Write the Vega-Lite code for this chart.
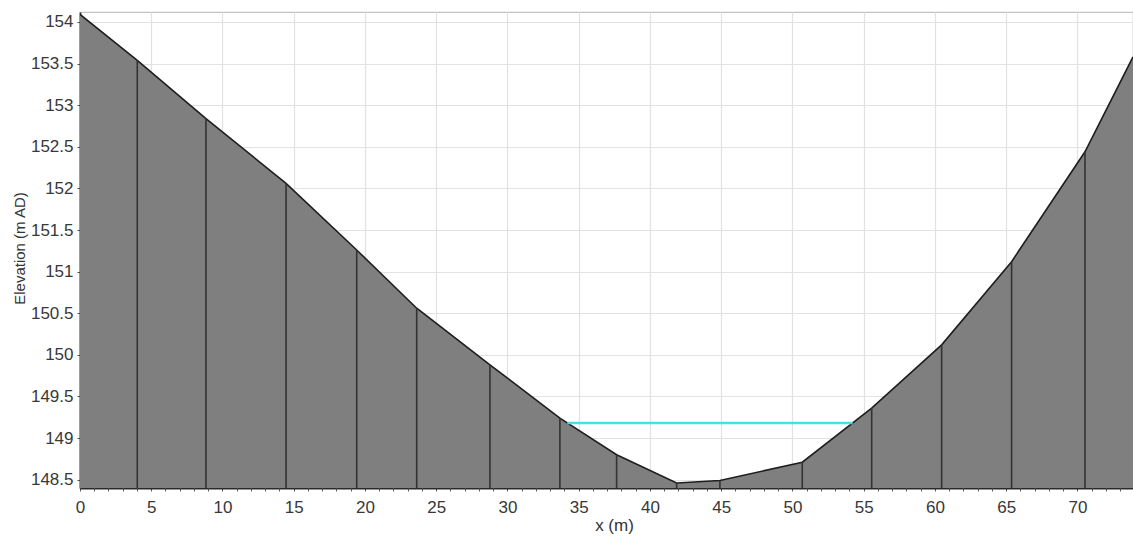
{
  "$schema": "https://vega.github.io/schema/vega-lite/v6.json",
  "width": 1053,
  "height": 476,
  "autosize": "none",
  "padding": {"left": 80, "top": 12, "right": 0, "bottom": 50},
  "background": "white",
  "config": {
    "font": "Liberation Sans",
    "view": {"stroke": "#c4c4c4", "strokeWidth": 1.2},
    "axis": {
      "labelFont": "Liberation Sans",
      "titleFont": "Liberation Sans",
      "labelColor": "#383838",
      "titleColor": "#333333",
      "titleFontWeight": "normal",
      "gridColor": "#e2e2e2",
      "gridWidth": 1.2,
      "domainColor": "#2a2a2a",
      "domainWidth": 1.8,
      "tickColor": "#555555",
      "tickSize": 3,
      "labelFlush": false,
      "labelOverlap": false
    }
  },
  "datasets": {
    "profile": [
      {"x": 0, "elevation": 154.09},
      {"x": 4.02, "elevation": 153.54},
      {"x": 8.84, "elevation": 152.84},
      {"x": 14.46, "elevation": 152.06},
      {"x": 19.42, "elevation": 151.26},
      {"x": 23.63, "elevation": 150.56},
      {"x": 28.77, "elevation": 149.88},
      {"x": 33.68, "elevation": 149.24},
      {"x": 37.66, "elevation": 148.8},
      {"x": 41.87, "elevation": 148.46},
      {"x": 44.91, "elevation": 148.49},
      {"x": 50.69, "elevation": 148.71},
      {"x": 55.56, "elevation": 149.36},
      {"x": 60.47, "elevation": 150.12},
      {"x": 65.38, "elevation": 151.12},
      {"x": 70.53, "elevation": 152.44},
      {"x": 73.9, "elevation": 153.58}
    ],
    "water": [
      {"x": 34.2, "level": 149.18},
      {"x": 54.22, "level": 149.18}
    ]
  },
  "resolve": {"axis": {"x": "independent"}},
  "layer": [
    {
      "data": {"name": "profile"},
      "mark": {
        "type": "area",
        "color": "#7f7f7f",
        "opacity": 1,
        "clip": true,
        "line": {"color": "#1e1e1e", "strokeWidth": 1.6}
      },
      "encoding": {
        "x": {
          "field": "x",
          "type": "quantitative",
          "scale": {"domain": [0, 73.9], "nice": false, "zero": false},
          "axis": {
            "orient": "bottom",
            "title": "x (m)",
            "titleFontSize": 17,
            "titleX": 534,
            "titleY": 37,
            "titleBaseline": "middle",
            "values": [0, 5, 10, 15, 20, 25, 30, 35, 40, 45, 50, 55, 60, 65, 70],
            "labelFontSize": 17,
            "labelPadding": 8,
            "labelDx": 4
          }
        },
        "y": {
          "field": "elevation",
          "type": "quantitative",
          "scale": {"domain": [148.4, 154.12], "nice": false, "zero": false},
          "axis": {
            "title": "Elevation (m AD)",
            "titleFontSize": 15,
            "titleX": -61,
            "titleY": 236,
            "titleAlign": "center",
            "titleBaseline": "middle",
            "values": [148.5, 149, 149.5, 150, 150.5, 151, 151.5, 152, 152.5, 153, 153.5, 154],
            "format": "~g",
            "labelFontSize": 17,
            "labelPadding": 4
          }
        },
        "y2": {"datum": 148.4}
      }
    },
    {
      "data": {"name": "profile"},
      "transform": [{"filter": "datum.x > 0 && datum.x < 73.9"}],
      "mark": {"type": "rule", "color": "#333333", "strokeWidth": 1.6},
      "encoding": {
        "x": {"field": "x", "type": "quantitative", "axis": null},
        "y": {"field": "elevation", "type": "quantitative"},
        "y2": {"datum": 148.4}
      }
    },
    {
      "data": {"name": "water"},
      "mark": {"type": "line", "color": "#3fe3ea", "strokeWidth": 2.5},
      "encoding": {
        "x": {
          "field": "x",
          "type": "quantitative",
          "axis": {
            "orient": "bottom",
            "title": null,
            "labels": false,
            "grid": false,
            "domain": false,
            "tickSize": 3,
            "values": [1,2,3,4,6,7,8,9,11,12,13,14,16,17,18,19,21,22,23,24,26,27,28,29,31,32,33,34,36,37,38,39,41,42,43,44,46,47,48,49,51,52,53,54,56,57,58,59,61,62,63,64,66,67,68,69,71,72,73]
          }
        },
        "y": {"field": "level", "type": "quantitative"}
      }
    }
  ]
}
